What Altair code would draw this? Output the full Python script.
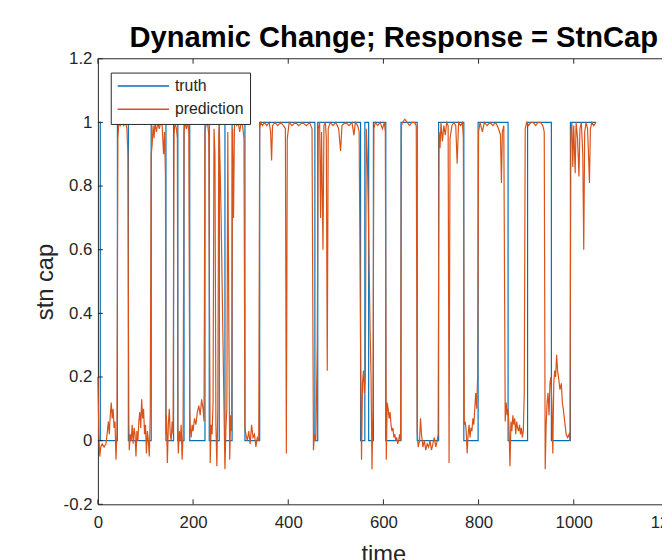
import altair as alt
import pandas as pd

# ---------------- data ----------------
x_ticks = [0, 200, 400, 600, 800, 1000, 1200]
y_ticks = [-0.2, 0, 0.2, 0.4, 0.6, 0.8, 1, 1.2]
series_names = ["truth", "prediction"]
series_colors = ["#0072BD", "#D95319"]

# truth: step function (value holds from each time until the next)
truth_time = [0, 5, 41, 64, 112, 143, 159, 168, 181, 193,
              225, 234, 255, 267, 282, 309, 340, 456, 462, 552,
              561, 569, 579, 605, 637, 671, 716, 769, 799, 862,
              903, 953, 993, 1047]
truth_value = [1, 0, 1, 0, 1, 0, 1, 0, 1, 0,
               1, 0, 1, 0, 1, 0, 1, 0, 1, 0,
               1, 0, 1, 0, 1, 0, 1, 0, 1, 0,
               1, 0, 1, 1]

# prediction: (time, value)
prediction_points = [
    (0, 0.2), (2, 0.02), (4, -0.05), (6, -0.02), (9, -0.01), (13, -0.02), (17, -0.01), (20, 0.03),
    (22, 0.06), (24, 0.02), (26, 0.08), (28, 0.12), (30, 0.07), (32, 0.1), (34, 0.04), (36, 0.06),
    (38, -0.06), (40, 0.02), (42, 0.95), (44, 1.0), (47, 0.99), (50, 1.0), (54, 0.99), (58, 1.0),
    (61, 0.98), (63, 0.9), (65, 0.05),
    (66, -0.03), (68, 0.02), (70, 0.0), (72, 0.05), (74, -0.01), (76, 0.04), (78, 0.02), (80, -0.05),
    (82, 0.03), (84, 0.0), (86, 0.06), (88, 0.09), (90, 0.04), (92, 0.13), (94, 0.07), (96, 0.1),
    (98, 0.02), (100, 0.05), (102, -0.04), (104, 0.03), (106, 0.0), (108, -0.05), (110, 0.08), (112, 0.9),
    (114, 0.93), (116, 0.99), (118, 0.95), (120, 1.0), (123, 0.97), (126, 1.0), (129, 0.98), (132, 1.0),
    (135, 0.99), (138, 0.9), (140, 0.97), (142, 0.83), (143, 0.02),
    (144, 0.08), (146, -0.07), (148, 0.05), (150, 0.1), (152, 0.02), (154, 0.0), (156, 0.06), (158, 0.02),
    (160, 0.96), (162, 1.0), (165, 0.98), (167, 0.95), (168, 0.02),
    (169, -0.04), (171, 0.03), (173, 0.0), (175, 0.05), (177, -0.06), (179, 0.02), (181, 0.97), (183, 1.0),
    (186, 0.98), (189, 1.0), (191, 0.97), (193, 0.1),
    (194, 0.04), (196, 0.01), (198, 0.05), (200, 0.03), (203, 0.07), (206, 0.05), (209, 0.09), (212, 0.11),
    (215, 0.08), (218, 0.13), (221, 0.1), (223, 0.06), (225, 0.97), (228, 1.0), (231, 0.99), (233, 0.96),
    (236, -0.07), (238, 0.05), (240, 0.02), (242, 0.12), (244, 0.98), (246, 0.9), (248, 0.05), (250, -0.08),
    (252, 0.1), (254, 0.95),
    (255, 1.0), (257, 0.85), (259, 0.7), (261, 0.5), (263, 0.3), (265, 0.1), (267, -0.09),
    (269, 0.04), (271, 0.1), (273, 0.97), (275, 0.4), (277, -0.06), (279, 0.08), (281, 0.03), (283, 0.98),
    (285, 0.7), (287, 1.0),
    (289, 1.0), (292, 0.99), (295, 1.0), (298, 0.97), (301, 1.0), (304, 0.99), (307, 0.95), (309, 0.04),
    (311, 0.02), (314, 0.0), (317, 0.03), (320, -0.01), (323, 0.05), (326, 0.01), (329, 0.02), (332, -0.02),
    (335, 0.01), (338, 0.0), (340, 0.98),
    (342, 1.0), (346, 0.99), (350, 1.0), (355, 0.99), (360, 1.0), (363, 0.97), (365, 0.88), (367, 0.99),
    (372, 1.0), (378, 0.99), (384, 1.0), (390, 0.99), (394, 0.98), (396, -0.04), (398, 0.95), (402, 1.0),
    (408, 0.99), (415, 1.0), (422, 0.99), (430, 1.0), (438, 0.99), (445, 1.0), (450, 0.98), (453, -0.03),
    (455, 0.02), (458, 0.0), (461, 0.3), (463, 0.98), (466, 1.0), (468, 0.7), (470, 0.97), (473, 0.6),
    (475, 0.99), (478, 1.0), (480, 0.95), (482, 0.22), (484, 0.98), (488, 1.0), (494, 0.99), (500, 1.0),
    (506, 0.98), (510, 0.91), (513, 0.99), (520, 1.0), (528, 0.99), (534, 1.0), (538, 0.96), (541, 1.0),
    (546, 0.99), (549, 0.97),
    (552, 0.3), (554, -0.06), (556, 0.18), (558, 0.22), (560, 0.15), (562, 0.2), (564, 0.98), (566, 0.9),
    (568, 0.75), (570, 0.55), (572, 0.35), (574, 0.2), (576, -0.09), (578, 0.1), (580, 0.98),
    (583, 1.0), (588, 0.99), (593, 1.0), (598, 0.98), (602, 1.0), (604, 0.97), (606, -0.06),
    (608, 0.12), (610, 0.1), (612, 0.07), (614, 0.09), (616, 0.05), (618, 0.03), (620, 0.04), (622, 0.01),
    (624, 0.02), (626, 0.0), (628, 0.01), (630, -0.01), (632, 0.0), (634, 0.02), (636, 0.0), (638, 0.99),
    (640, 1.0), (645, 1.01), (650, 1.0), (655, 0.99), (660, 1.0), (665, 1.0), (669, 0.99), (671, 0.03),
    (673, -0.02), (676, 0.0), (678, 0.07), (680, 0.02), (683, -0.02), (686, 0.0), (689, -0.03), (692, -0.01),
    (695, -0.02), (698, 0.0), (701, -0.03), (704, -0.01), (707, 0.01), (710, -0.02), (713, 0.0), (715, 0.02),
    (717, 0.97),
    (719, 0.92), (721, 1.0), (724, 0.94), (727, 0.99), (730, 0.96), (733, 1.0), (736, 0.99), (738, -0.07),
    (740, 0.95), (744, 0.99), (748, 1.0), (752, 0.99), (755, 0.87), (758, 1.0), (762, 0.99), (766, 1.0),
    (768, 0.95), (770, 0.05),
    (772, 0.06), (774, 0.03), (776, -0.04), (778, 0.02), (780, 0.05), (782, 0.01), (784, 0.04), (786, 0.03),
    (788, 0.07), (790, 0.05), (792, 0.1), (794, 0.15), (796, 0.1), (798, 0.2), (800, 0.97),
    (803, 1.0), (808, 0.97), (812, 1.0), (818, 0.99), (824, 1.0), (830, 0.99), (836, 1.0), (842, 0.98),
    (846, 0.96), (848, 0.81), (850, 0.97), (853, 0.99), (856, 0.06),
    (858, 0.12), (860, 0.08), (862, 0.1), (864, 0.04), (866, -0.08), (868, 0.06), (870, 0.03), (872, 0.08),
    (874, 0.05), (876, 0.07), (878, 0.02), (880, 0.06), (882, 0.04), (884, 0.03), (886, 0.05), (888, 0.02),
    (890, 0.04), (892, 0.01), (894, 0.03), (896, 0.15), (898, 0.98),
    (901, 1.0), (905, 0.99), (910, 1.0), (915, 1.0), (920, 0.99), (925, 1.0), (930, 1.0), (935, 0.99),
    (938, 0.97), (940, -0.09),
    (942, 0.05), (944, 0.12), (946, 0.15), (948, 0.08), (950, 0.18), (952, 0.2), (954, 0.12), (956, -0.04),
    (958, 0.18), (960, 0.22), (962, 0.2), (964, 0.27), (966, 0.22), (968, 0.2), (971, 0.16), (974, 0.18),
    (976, 0.12), (978, 0.1), (981, 0.06), (984, 0.02), (987, 0.01), (990, 0.02), (992, 0.0), (994, 0.97),
    (996, 1.0), (998, 0.86), (1000, 0.99), (1003, 0.84), (1005, 1.0), (1008, 0.95), (1011, 0.83), (1013, 0.98),
    (1016, 1.0), (1019, 0.9), (1021, 0.6), (1023, 0.97), (1026, 1.0), (1029, 0.98), (1031, 0.9), (1033, 0.81),
    (1035, 0.98), (1038, 1.0), (1042, 0.99), (1047, 1.0),
]

# ---------------- tables ----------------
truth_df = pd.DataFrame({"time": truth_time, "value": truth_value, "series": "truth"})
pred_df = pd.DataFrame(prediction_points, columns=["time", "value"])
pred_df["series"] = "prediction"
xt_df = pd.DataFrame({"time": x_ticks})
yt_df = pd.DataFrame({"value": y_ticks})
border_df = pd.DataFrame({"time": [x_ticks[0]], "time_end": [x_ticks[-1]]})

FONT = "Liberation Sans"
AX = "#262626"
W, H = 563, 451
XRANGE = 578  # plot area continues past the window edge (1200 is cut off)

xscale = alt.Scale(domain=[0, 1200], range=[0, XRANGE], nice=False, zero=False)
yscale = alt.Scale(domain=[-0.2, 1.2], nice=False, zero=False)
cscale = alt.Scale(domain=series_names, range=series_colors)

xaxis = alt.Axis(values=x_ticks, format="d", ticks=False, grid=False, domainColor=AX,
                 labelColor=AX, labelFont=FONT, labelFontSize=17, labelPadding=10,
                 labelOverlap=False, labelFlush=False, titleFont=FONT, titleFontSize=24,
                 titleFontWeight="normal", titleColor=AX, titlePadding=13)
yaxis = alt.Axis(values=y_ticks, ticks=False, grid=False, domainColor=AX,
                 labelExpr="datum.value < 0 ? '-' + format(-datum.value, '~g') : format(datum.value, '~g')",
                 labelColor=AX, labelFont=FONT, labelFontSize=17, labelPadding=6,
                 labelOverlap=False, titleFont=FONT, titleFontSize=24,
                 titleFontWeight="normal", titleColor=AX, titlePadding=6)
legend = alt.Legend(title=None, orient="none", legendX=13, legendY=14, direction="vertical",
                    symbolType="stroke", symbolSize=2704, symbolStrokeWidth=1.5, clipHeight=15,
                    rowPadding=6.7, padding=6, strokeColor=AX, fillColor="white",
                    labelFont=FONT, labelFontSize=16, labelColor=AX, labelOffset=5, labelLimit=0)

truth_line = alt.Chart(truth_df).mark_line(interpolate="step-after", strokeWidth=1.2).encode(
    x=alt.X("time:Q", scale=xscale, axis=xaxis, title="time"),
    y=alt.Y("value:Q", scale=yscale, axis=yaxis, title="stn cap"),
    color=alt.Color("series:N", scale=cscale, legend=legend),
)
pred_line = alt.Chart(pred_df).mark_line(strokeWidth=1.2).encode(
    x="time:Q", y="value:Q", color=alt.Color("series:N", scale=cscale, legend=legend),
)

tick_len = 5
xt_bottom = alt.Chart(xt_df).mark_rule(color=AX, strokeWidth=1).encode(
    x="time:Q", y=alt.value(H), y2=alt.value(H - tick_len))
xt_top = alt.Chart(xt_df).mark_rule(color=AX, strokeWidth=1).encode(
    x="time:Q", y=alt.value(0), y2=alt.value(tick_len))
yt_left = alt.Chart(yt_df).mark_rule(color=AX, strokeWidth=1).encode(
    y="value:Q", x=alt.value(0), x2=alt.value(tick_len))
top_border = alt.Chart(border_df).mark_rule(color=AX, strokeWidth=1).encode(
    x="time:Q", x2="time_end:Q", y=alt.value(0))

chart = alt.layer(truth_line, pred_line, xt_bottom, xt_top, yt_left, top_border).properties(
    width=W, height=H,
    autosize=alt.AutoSizeParams(type="none"),
    padding={"left": 91, "top": 48, "right": 8, "bottom": 53},
    background="white",
    title=alt.Title("Dynamic Change; Response = StnCap", font=FONT, fontSize=29.5,
                    fontWeight="bold", color="black", anchor="middle", offset=2, dx=18, dy=6),
).configure_view(stroke=None)

chart.save("out.html", embed_options={"renderer": "svg", "actions": False})
